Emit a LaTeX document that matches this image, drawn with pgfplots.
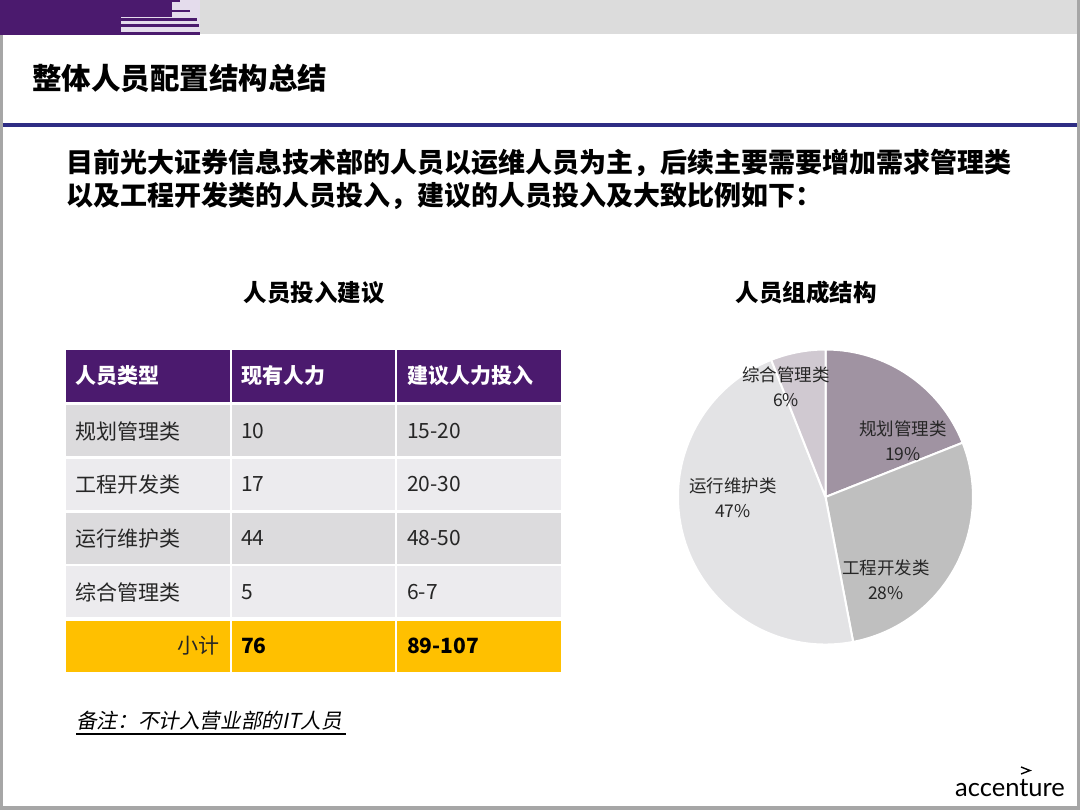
\documentclass[border=0pt]{standalone}
\usepackage{pgfplots}
\pgfplotsset{compat=1.18}
\usepackage{pgfplotstable}
\usepackage{fontspec}
\setmainfont{Noto Sans CJK SC}
\newfontfamily\cjkit{Noto Sans CJK SC}[FakeSlant=0.2]
\newfontfamily\logofont{Lato}

\definecolor{acnpurple}{HTML}{4B1A6E}
\definecolor{lavender}{HTML}{E4DCEC}
\definecolor{topgray}{HTML}{DCDCDC}
\definecolor{edgegray}{HTML}{A6A6A6}
\definecolor{navy}{HTML}{2E2D84}
\definecolor{rowdark}{HTML}{DCDBDD}
\definecolor{rowlight}{HTML}{ECEBEE}
\definecolor{subyellow}{HTML}{FFC000}
\definecolor{txt}{HTML}{262626}
\definecolor{pie0}{HTML}{A093A2}
\definecolor{pie1}{HTML}{BFBFBF}
\definecolor{pie2}{HTML}{E3E3E5}
\definecolor{pie3}{HTML}{D0C9D1}

% pie: share in percent, label centre in slide pixels
\pgfplotstableread[col sep=comma]{
name,pct,lx,ly
规划管理类,19,903,441
工程开发类,28,886,580
运行维护类,47,733,498
综合管理类,6,786,387
}\piedata

\def\piecum{0}
\pgfplotsforeachungrouped \i in {0,...,3}{%
  \pgfplotstablegetelem{\i}{pct}\of\piedata \let\p\pgfplotsretval
  \pgfmathsetmacro\a{90-3.6*\piecum}%
  \pgfmathsetmacro\piecum{\piecum+\p}%
  \pgfmathsetmacro\b{90-3.6*\piecum}%
  \expandafter\xdef\csname pieS\i\endcsname{\a}%
  \expandafter\xdef\csname pieE\i\endcsname{\b}%
  \expandafter\xdef\csname pieP\i\endcsname{\p}%
  \pgfplotstablegetelem{\i}{name}\of\piedata
  \expandafter\xdef\csname pieN\i\endcsname{\pgfplotsretval}%
  \pgfplotstablegetelem{\i}{lx}\of\piedata
  \expandafter\xdef\csname pieX\i\endcsname{\pgfplotsretval}%
  \pgfplotstablegetelem{\i}{ly}\of\piedata
  \expandafter\xdef\csname pieY\i\endcsname{\pgfplotsretval}%
}

\newcommand\fs[1]{\fontsize{#1bp}{1.2\dimexpr#1bp\relax}\selectfont}

\begin{document}
\begin{tikzpicture}
\begin{axis}[
    x=1bp, y=1bp, y dir=reverse,
    xmin=0, xmax=1080, ymin=0, ymax=810,
    hide axis, clip=false,
]
% slide background and frame
\fill[white] (axis cs:0,0) rectangle (axis cs:1080,810);
\fill[topgray] (axis cs:0,0) rectangle (axis cs:1080,34);
\fill[edgegray] (axis cs:0,0) rectangle (axis cs:3,810);
\fill[edgegray] (axis cs:1077,0) rectangle (axis cs:1080,810);
\fill[edgegray] (axis cs:0,806) rectangle (axis cs:1080,810);
\fill[navy] (axis cs:3,123) rectangle (axis cs:1077,126.5);

% logo stripes top left
\fill[lavender] (axis cs:121,0) rectangle (axis cs:200,35);
\fill[acnpurple] (axis cs:0,0) rectangle (axis cs:172,17);
\fill[acnpurple] (axis cs:0,0) rectangle (axis cs:121,35);
\fill[acnpurple] (axis cs:172,0) rectangle (axis cs:180,2.5);
\fill[acnpurple] (axis cs:172,10) rectangle (axis cs:190,12);
\fill[acnpurple] (axis cs:121,18) rectangle (axis cs:197,21);
\fill[acnpurple] (axis cs:121,24) rectangle (axis cs:199,27);
\fill[acnpurple] (axis cs:121,32) rectangle (axis cs:200,35);

% titles
\node[anchor=west, inner sep=0] at (axis cs:32,78) {\fs{29.5}\bfseries 整体人员配置结构总结};
\node[anchor=west, inner sep=0] at (axis cs:66,163) {\fs{27}\bfseries 目前光大证券信息技术部的人员以运维人员为主，后续主要需要增加需求管理类};
\node[anchor=west, inner sep=0] at (axis cs:66,196) {\fs{27}\bfseries 以及工程开发类的人员投入，建议的人员投入及大致比例如下：};
\node[inner sep=0] at (axis cs:314,293) {\fs{23.5}\bfseries 人员投入建议};
\node[inner sep=0] at (axis cs:806,293) {\fs{23.5}\bfseries 人员组成结构};

% table cells
\fill[acnpurple] (axis cs:66,350) rectangle (axis cs:229.5,401.5);
\fill[acnpurple] (axis cs:231.5,350) rectangle (axis cs:395,401.5);
\fill[acnpurple] (axis cs:397,350) rectangle (axis cs:561,401.5);
\pgfplotsinvokeforeach{0,1,2,3}{%
  \fill[rowdark] (axis cs:66,405+#1*53.8) rectangle (axis cs:229.5,456+#1*53.8);
  \fill[rowdark] (axis cs:231.5,405+#1*53.8) rectangle (axis cs:395,456+#1*53.8);
  \fill[rowdark] (axis cs:397,405+#1*53.8) rectangle (axis cs:561,456+#1*53.8);
}
\pgfplotsinvokeforeach{1,3}{%
  \fill[rowlight] (axis cs:66,405+#1*53.8) rectangle (axis cs:229.5,456+#1*53.8);
  \fill[rowlight] (axis cs:231.5,405+#1*53.8) rectangle (axis cs:395,456+#1*53.8);
  \fill[rowlight] (axis cs:397,405+#1*53.8) rectangle (axis cs:561,456+#1*53.8);
}
\fill[subyellow] (axis cs:66,620.5) rectangle (axis cs:229.5,672);
\fill[subyellow] (axis cs:231.5,620.5) rectangle (axis cs:395,672);
\fill[subyellow] (axis cs:397,620.5) rectangle (axis cs:561,672);

% table text
\begin{scope}[every node/.style={anchor=west, inner sep=0, font=\fs{21}}]
\node[white] at (axis cs:75,376) {\bfseries 人员类型};
\node[white] at (axis cs:241,376) {\bfseries 现有人力};
\node[white] at (axis cs:407,376) {\bfseries 建议人力投入};
\node[txt] at (axis cs:75,431) {规划管理类};
\node[txt] at (axis cs:241,431) {10};
\node[txt] at (axis cs:407,431) {15-20};
\node[txt] at (axis cs:75,484.5) {工程开发类};
\node[txt] at (axis cs:241,484.5) {17};
\node[txt] at (axis cs:407,484.5) {20-30};
\node[txt] at (axis cs:75,538.5) {运行维护类};
\node[txt] at (axis cs:241,538.5) {44};
\node[txt] at (axis cs:407,538.5) {48-50};
\node[txt] at (axis cs:75,592.5) {综合管理类};
\node[txt] at (axis cs:241,592.5) {5};
\node[txt] at (axis cs:407,592.5) {6-7};
\node[txt, anchor=east] at (axis cs:220,646) {小计};
\node[black] at (axis cs:241,646) {\bfseries 76};
\node[black] at (axis cs:407,646) {\bfseries 89-107};
\end{scope}

% note
\node[anchor=west, inner sep=0] at (axis cs:76,721) {\fs{20.6}\cjkit 备注：不计入营业部的IT人员};
\draw[black, line width=1.3bp] (axis cs:76,734) -- (axis cs:346,734);

% pie
\pgfplotsinvokeforeach{0,...,3}{%
  \fill[pie#1, draw=white, line width=2bp, line join=round]
    (axis cs:825.5,497) -- ++(\csname pieS#1\endcsname:147.5bp)
    arc[start angle=\csname pieS#1\endcsname, end angle=\csname pieE#1\endcsname, radius=147.5bp] -- cycle;
}
\pgfplotsinvokeforeach{0,...,3}{%
  \node[txt, align=center, inner sep=0, font=\fontsize{17.5bp}{25bp}\selectfont]
    at (axis cs:\csname pieX#1\endcsname,\csname pieY#1\endcsname)
    {\csname pieN#1\endcsname\\\csname pieP#1\endcsname\%};
}

% logo
\node[anchor=west, inner sep=0] at (axis cs:955,788) {\fontsize{25.5bp}{28bp}\selectfont\logofont accenture};
\draw[black, line width=1.4bp] (axis cs:1021,767) -- (axis cs:1030,770.5) -- (axis cs:1021,774);
\end{axis}
\end{tikzpicture}
\end{document}
